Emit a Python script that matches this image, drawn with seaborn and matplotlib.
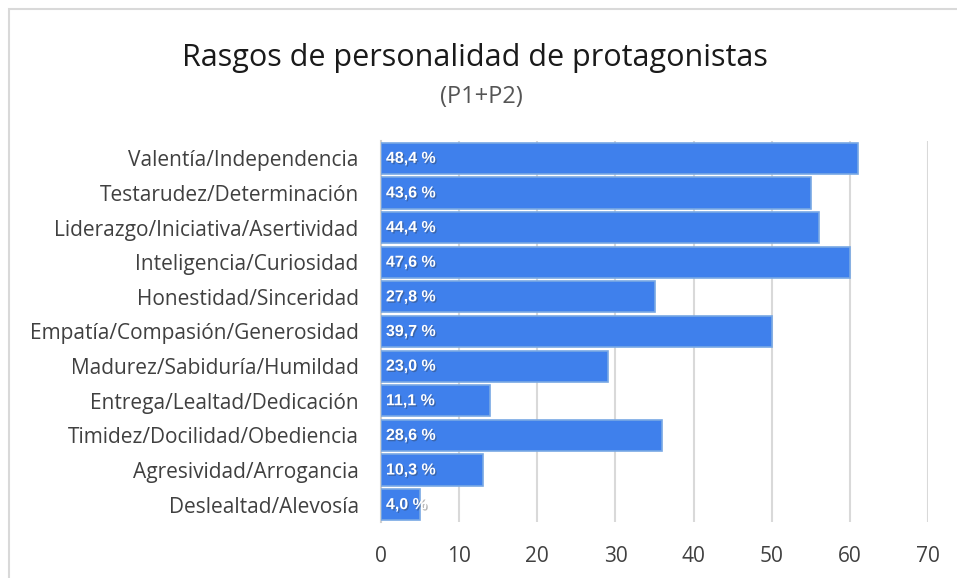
import matplotlib
matplotlib.use('Agg')
import matplotlib.pyplot as plt
import matplotlib.patheffects as pe
import numpy as np
import pandas as pd
import seaborn as sns

# datos (n = 126)
rasgos = [
    'Valentía/Independencia',
    'Testarudez/Determinación',
    'Liderazgo/Iniciativa/Asertividad',
    'Inteligencia/Curiosidad',
    'Honestidad/Sinceridad',
    'Empatía/Compasión/Generosidad',
    'Madurez/Sabiduría/Humildad',
    'Entrega/Lealtad/Dedicación',
    'Timidez/Docilidad/Obediencia',
    'Agresividad/Arrogancia',
    'Deslealtad/Alevosía',
]
frecuencias = [61, 55, 56, 60, 35, 50, 29, 14, 36, 13, 5]
porcentajes = ['48,4 %', '43,6 %', '44,4 %', '47,6 %', '27,8 %', '39,7 %',
               '23,0 %', '11,1 %', '28,6 %', '10,3 %', '4,0 %']
ticks_x = [0, 10, 20, 30, 40, 50, 60, 70]

df = pd.DataFrame({'rasgo': rasgos, 'n': frecuencias})

sns.set_style('white')
plt.rcParams['font.family'] = ['Open Sans', 'DejaVu Sans']

fig = plt.figure(figsize=(9.57, 5.78), dpi=100)
ax = fig.add_axes([0.398, 0.097, 0.572, 0.659])

sns.barplot(data=df, x='n', y='rasgo', orient='h', color='#3F80EC',
            edgecolor='#78A8E4', linewidth=1.2, width=0.9, saturation=1,
            ax=ax, zorder=3)

for i, txt in enumerate(porcentajes):
    ax.text(0.65, i, txt, color='white', fontsize=11.5, fontweight='bold',
            family='Liberation Sans', va='center', ha='left', zorder=4,
            path_effects=[pe.withSimplePatchShadow(offset=(1, -1), shadow_rgbFace='#333333', alpha=0.35)])

ax.set_xlim(0, 70)
ax.set_ylim(len(rasgos) - 0.5, -0.5)
ax.set_xticks(ticks_x)
ax.xaxis.grid(True, color='#D9D9D9', linewidth=1.5, zorder=0)
ax.set_xlabel('')
ax.set_ylabel('')

for s in ['top', 'right', 'bottom']:
    ax.spines[s].set_visible(False)
ax.spines['left'].set_color('#D0D0D0')
ax.spines['left'].set_linewidth(1.5)

ax.tick_params(axis='x', length=0, labelsize=15, colors='#404040', pad=17)
ax.tick_params(axis='y', which='major', length=0, labelsize=15, colors='#404040', pad=16)
ax.set_yticks(np.arange(len(rasgos) + 1) - 0.5, minor=True)
ax.tick_params(axis='y', which='minor', length=5, width=1.5, color='#D0D0D0')

fig.text(0.496, 0.90, 'Rasgos de personalidad de protagonistas', ha='center',
         va='center', fontsize=22, color='#1a1a1a')
fig.text(0.503, 0.832, '(P1+P2)', ha='center', va='center', fontsize=17,
         color='#555555')

# marco exterior
fig.patches.append(plt.Rectangle((9 / 957, -0.05), 1.0, 1 - 9 / 578 + 0.05,
                                 transform=fig.transFigure, fill=False,
                                 edgecolor='#D9D9D9', linewidth=1.5))

fig.savefig('out.png', dpi=100)
